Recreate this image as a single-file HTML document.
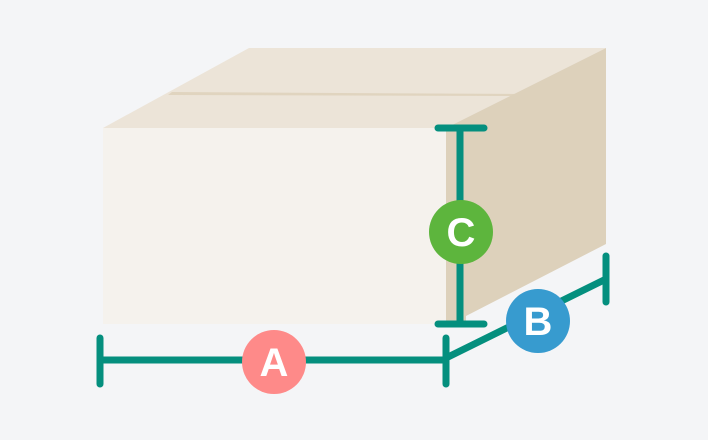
<!DOCTYPE html>
<html><head><style>html,body{margin:0;padding:0;background:#f4f5f7;}svg{display:block}</style></head>
<body>
<svg width="708" height="440" viewBox="0 0 708 440" xmlns="http://www.w3.org/2000/svg">
<rect width="708" height="440" fill="#f4f5f7"/>
<polygon points="103,128 249,48 606,48 446,128" fill="#ece4d8"/>
<polygon points="172,92 520,94 516,96 168,95" fill="#e0d4bf"/>
<polygon points="446,128 606,48 606,244 466,316 466,324 446,324" fill="#ddd1bb"/>
<rect x="103" y="128" width="343" height="196" fill="#f5f2ed"/>
<g stroke="#048f7e" stroke-width="7" stroke-linecap="round" fill="none">
<line x1="460" y1="128" x2="460" y2="324"/>
<line x1="438" y1="128" x2="484" y2="128"/>
<line x1="438" y1="324" x2="484" y2="324"/>
<line x1="100" y1="360" x2="446" y2="360"/>
<line x1="100" y1="338" x2="100" y2="384"/>
<line x1="446" y1="338" x2="446" y2="384"/>
<line x1="446" y1="358" x2="606" y2="279"/>
<line x1="606" y1="256" x2="606" y2="302"/>
</g>
<circle cx="461" cy="232" r="32" fill="#5db53d"/>
<circle cx="274" cy="362" r="32" fill="#fe8a89"/>
<circle cx="538" cy="321" r="32" fill="#379bcf"/>
<g fill="#fff" font-family="Liberation Sans, sans-serif" font-weight="bold" font-size="40" text-anchor="middle">
<text x="461" y="246">C</text>
<text x="274" y="376">A</text>
<text x="538" y="335">B</text>
</g>
</svg>
</body></html>
